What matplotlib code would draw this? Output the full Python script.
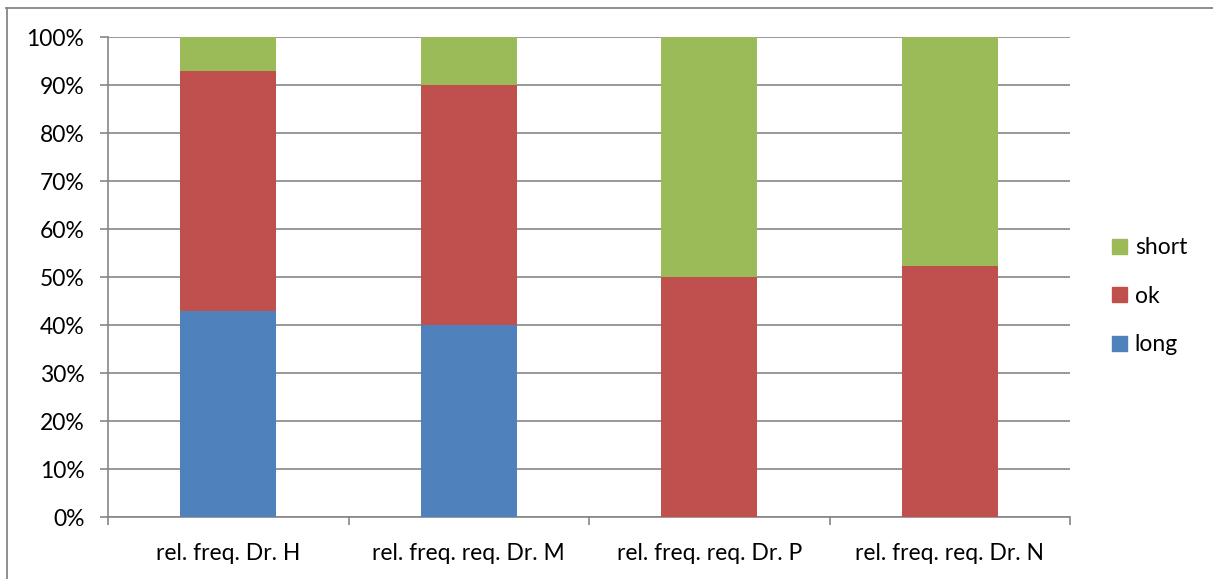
import matplotlib.pyplot as plt
from matplotlib.patches import Patch
from matplotlib.lines import Line2D
from matplotlib.ticker import PercentFormatter, FixedLocator

# Daten (relative Häufigkeiten in %)
categories = ["rel. freq. Dr. H", "rel. freq. req. Dr. M", "rel. freq. req. Dr. P", "rel. freq. req. Dr. N"]
long_vals = [42.86, 40.0, 0.0, 0.0]
ok_vals = [50.0, 50.0, 50.0, 52.38]
short_vals = [7.14, 10.0, 50.0, 47.62]

c_long = "#4F81BD"
c_ok = "#C0504D"
c_short = "#9BBB59"
grid_c = "#868686"

plt.rcParams['font.family'] = ['Lato', 'DejaVu Sans']

fig = plt.figure(figsize=(12.13, 5.79), dpi=100)
ax = fig.add_axes([108 / 1213, 1 - 517 / 579, (1070 - 108) / 1213, 480 / 579])

x = list(range(len(categories)))
bottom_ok = long_vals
bottom_short = [a + b for a, b in zip(long_vals, ok_vals)]

ax.bar(x, long_vals, width=0.4, color=c_long, zorder=3)
ax.bar(x, ok_vals, width=0.4, bottom=bottom_ok, color=c_ok, zorder=3)
ax.bar(x, short_vals, width=0.4, bottom=bottom_short, color=c_short, zorder=3)

ax.set_xlim(-0.5, len(categories) - 0.5)
ax.set_ylim(0, 100)
ax.set_yticks(range(0, 101, 10))
ax.yaxis.set_major_formatter(PercentFormatter(decimals=0))
ax.grid(axis="y", color=grid_c, linewidth=1.2, zorder=0)

# Kategorien-Ticks an den Grenzen, Beschriftung mittig
ax.set_xticks(x)
ax.set_xticklabels(categories, fontsize=16.5)
ax.tick_params(axis="x", length=0, pad=19)
ax.xaxis.set_minor_locator(FixedLocator([i - 0.5 for i in range(len(categories) + 1)]))
ax.tick_params(axis="x", which="minor", length=6, color=grid_c, width=1.2)
ax.tick_params(axis="y", length=6, color=grid_c, width=1.2, labelsize=16.5, pad=11)

for s in ["top", "right"]:
    ax.spines[s].set_visible(False)
for s in ["left", "bottom"]:
    ax.spines[s].set_color(grid_c)
    ax.spines[s].set_linewidth(1.2)

handles = [Patch(color=c_short, label="short"),
           Patch(color=c_ok, label="ok"),
           Patch(color=c_long, label="long")]
ax.legend(handles=handles, loc="center left", bbox_to_anchor=(1.022, 0.46),
          frameon=False, fontsize=16.5, handlelength=0.65, handleheight=0.65,
          handletextpad=0.35, labelspacing=1.2)

# Rahmen des Diagramms (oben und links)
fig.add_artist(Line2D([6 / 1213, 1.0], [1 - 7.5 / 579, 1 - 7.5 / 579], color=grid_c, linewidth=1.3))
fig.add_artist(Line2D([6.5 / 1213, 6.5 / 1213], [0.0, 1 - 7.5 / 579], color=grid_c, linewidth=1.3))

fig.savefig("out.png", dpi=100)
